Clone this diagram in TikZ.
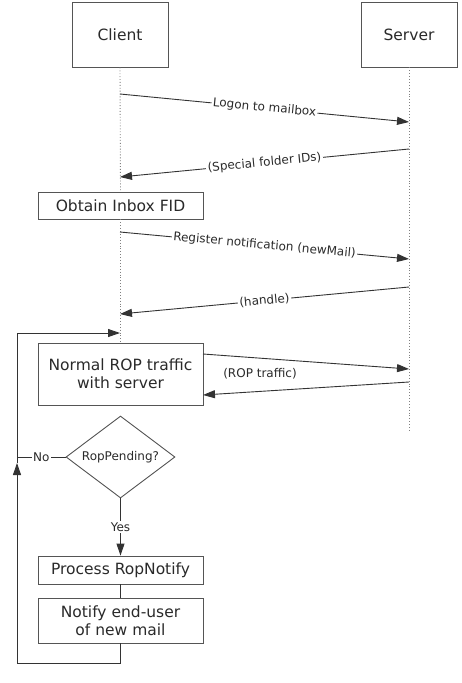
\documentclass[tikz,border=0pt]{standalone}
\usepackage{fontspec}
\setmainfont{DejaVu Sans}
\usepackage{tikz}
\usetikzlibrary{calc,positioning,shapes.geometric,arrows.meta}
\definecolor{linegray}{HTML}{333333}
\definecolor{boxgray}{HTML}{555555}
\definecolor{textgray}{HTML}{2A2A2A}

\begin{document}
\begin{tikzpicture}[x=1pt, y=-1pt,
    actor/.style={rectangle, draw=boxgray, line width=0.9pt, fill=white, minimum width=96pt, minimum height=65pt,
        text=textgray, font=\fontsize{15.5}{18}\selectfont},
    stepbox/.style={rectangle, draw=boxgray, line width=0.9pt, fill=white, minimum width=165pt, inner sep=2pt,
        text=textgray, font=\fontsize{15.5}{18}\selectfont, align=center},
    decision/.style={diamond, draw=boxgray, line width=0.9pt, fill=white, minimum width=109pt, minimum height=82pt,
        aspect=1.33, inner sep=0pt, text=textgray, font=\fontsize{12}{14}\selectfont},
    life/.style={draw=gray, line width=0.9pt, dotted},
    arr/.style={-{Triangle[length=12pt, width=8pt]}, linegray, line width=0.9pt},
    line/.style={linegray, line width=0.9pt},
    msg/.style={sloped, fill=white, inner sep=1.5pt, text=textgray, font=\fontsize{12}{14}\selectfont},
    lbl/.style={fill=white, inner sep=1.5pt, text=textgray, font=\fontsize{12}{14}\selectfont}
]
\useasboundingbox (0,0) rectangle (462,683);

% participants
\node[actor] (client) at (120,34.5) {Client};
\node[actor] (server) at (409,34.5) {Server};

% client side steps
\node[stepbox, minimum height=27pt] (inbox) at (120.5,205.5) {Obtain Inbox FID};
\node[stepbox, minimum height=62pt] (normal) at (120.5,374) {Normal ROP traffic\\with server};
\node[decision] (pending) at (120.5,457) {RopPending?};
\node[stepbox, minimum height=28pt] (process) at (120.5,570) {Process RopNotify};
\node[stepbox, minimum height=45pt] (notify) at (120.5,620.5) {Notify end-user\\of new mail};

% lifelines
\coordinate (srvend) at (409,430);
\draw[life] (client.south) -- (inbox.north);
\draw[life] (inbox.south) -- (normal.north);
\draw[life] (server.south) -- (srvend);

% message points
\coordinate (c1) at (120,94);   \coordinate (s1) at (409,122);
\coordinate (s2) at (409,149);  \coordinate (c2) at (120,177);
\coordinate (c3) at (120,232);  \coordinate (s3) at (409,259);
\coordinate (s4) at (409,287);  \coordinate (c4) at (120,314);
\coordinate (n1) at (203,354);  \coordinate (s5) at (409,369);
\coordinate (s6) at (409,382);  \coordinate (n2) at (203,395);

\draw[arr] (c1) -- node[msg] {Logon to mailbox} (s1);
\draw[arr] (s2) -- node[msg] {(Special folder IDs)} (c2);
\draw[arr] (c3) -- node[msg] {Register notification (newMail)} (s3);
\draw[arr] (s4) -- node[msg] {(handle)} (c4);
\draw[arr] (n1) -- (s5);
\draw[arr] (s6) -- (n2);
\node[lbl, fill=none] (roptraffic) at (260,374) {(ROP traffic)};

% notification loop
\coordinate (loopbl) at (17,663);
\coordinate (noarr) at (17,463);
\coordinate (nojoin) at (17,457);
\coordinate (looptop) at (17,333);
\coordinate (c5) at (120,333);
\draw[arr] (pending.south) -- node[lbl] {Yes} (process.north);
\draw[line] (process.south) -- (notify.north);
\draw[arr] (notify.south) |- (loopbl) -- (noarr);
\draw[line] (noarr) -- (looptop);
\draw[arr] (looptop) -- (c5);
\draw[line] (pending.west) -- node[lbl] {No} (nojoin);
\end{tikzpicture}
\end{document}
